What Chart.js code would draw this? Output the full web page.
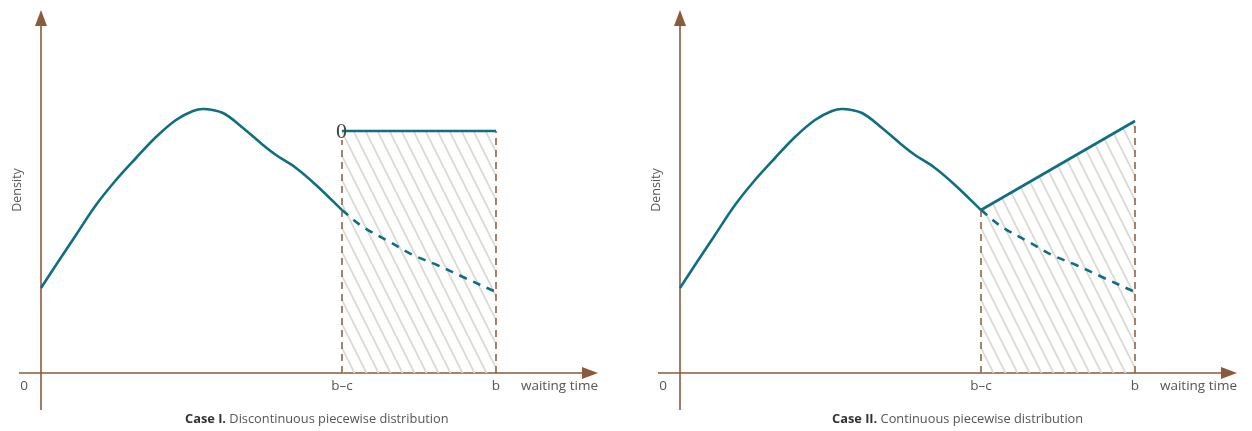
<!DOCTYPE html>
<html>
<head>
<meta charset="utf-8">
<script src="https://cdn.jsdelivr.net/npm/chart.js@4.4.0/dist/chart.umd.min.js"></script>
<style>
  body { margin: 0; background: #fff; }
  .wrap { position: relative; width: 1252px; height: 431px; overflow: hidden; }
  canvas { position: absolute; top: 0; }
  #chartA { left: 0; }
  #chartB { left: 639px; }
  .caption {
    position: absolute; top: 409px;
    font-family: "Open Sans", sans-serif; font-size: 12.8px; color: #555;
    white-space: nowrap;
  }
  .caption b { color: #333; }
</style>
</head>
<body>
<div class="wrap">
  <canvas id="chartA" width="613" height="431"></canvas>
  <canvas id="chartB" width="613" height="431"></canvas>
  <div class="caption" style="left:185px"><b>Case I.</b> Discontinuous piecewise distribution</div>
  <div class="caption" style="left:832px"><b>Case II.</b> Continuous piecewise distribution</div>
</div>
<script>
// waiting time positions (same units on both panels)
const B_MINUS_C = 6.02;
const B = 9.1;

// density curve up to b-c
const curveX = [0, 0.3, 0.7, 1.1, 1.5, 1.9, 2.3, 2.7, 3.04, 3.26, 3.64, 4.04, 4.44, 4.7, 5.1, 5.5, 6.02];
const curveY = [0.85, 1.08, 1.38, 1.68, 1.93, 2.15, 2.36, 2.53, 2.62, 2.64, 2.60, 2.45, 2.28, 2.18, 2.05, 1.88, 1.63];

// dashed continuation of the original density between b-c and b
const tailX = [6.02, 6.44, 6.98, 7.44, 7.92, 8.44, 9.1];
const tailY = [1.63, 1.46, 1.31, 1.18, 1.08, 0.96, 0.81];

// tail replacement: case I flat level, case II straight line
const caseIX = [B_MINUS_C, B];
const caseIY = [2.42, 2.42];
const caseIIX = [B_MINUS_C, B];
const caseIIY = [1.63, 2.52];

// x-axis tick labels
const tickValues = [0, B_MINUS_C, B];
const tickLabels = ['0', 'b\u2013c', 'b'];
const xTitle = 'waiting time';
const yTitle = 'Density';

const TEAL = '#0f6f80';
const BROWN = '#8b5a3a';
const FONT = '"Open Sans", sans-serif';

function pts(xs, ys) {
  return xs.map((x, i) => ({ x: x, y: ys[i] }));
}

function makeHatch() {
  const w = 12, h = 24;
  const c = document.createElement('canvas');
  c.width = w; c.height = h;
  const ctx = c.getContext('2d');
  ctx.strokeStyle = '#dbd9d1';
  ctx.lineWidth = 1.8;
  for (let k = -1; k <= 1; k++) {
    ctx.beginPath();
    ctx.moveTo(k * w, 0);
    ctx.lineTo(k * w + w, h);
    ctx.stroke();
  }
  return c;
}

// axes with arrow heads, labels
const axesPlugin = {
  id: 'axes',
  beforeDatasetsDraw(chart) {
    const ctx = chart.ctx;
    const xs = chart.scales.x, ys = chart.scales.y;
    const x0 = xs.getPixelForValue(0);
    const y0 = ys.getPixelForValue(0);
    const right = chart.width - 15;
    ctx.save();
    ctx.strokeStyle = BROWN;
    ctx.fillStyle = BROWN;
    ctx.lineWidth = 1.6;
    // y axis
    ctx.beginPath();
    ctx.moveTo(x0, 410);
    ctx.lineTo(x0, 24);
    ctx.stroke();
    ctx.beginPath();
    ctx.moveTo(x0, 10);
    ctx.lineTo(x0 - 6, 26);
    ctx.lineTo(x0 + 6, 26);
    ctx.closePath();
    ctx.fill();
    // x axis
    ctx.beginPath();
    ctx.moveTo(x0 - 22, y0);
    ctx.lineTo(right - 14, y0);
    ctx.stroke();
    ctx.beginPath();
    ctx.moveTo(right, y0);
    ctx.lineTo(right - 16, y0 - 6);
    ctx.lineTo(right - 16, y0 + 6);
    ctx.closePath();
    ctx.fill();
    ctx.restore();
  },
  afterDraw(chart, args, opts) {
    const ctx = chart.ctx;
    const xs = chart.scales.x, ys = chart.scales.y;
    const x0 = xs.getPixelForValue(0);
    const y0 = ys.getPixelForValue(0);
    const right = chart.width - 15;
    ctx.save();
    ctx.fillStyle = '#555';
    ctx.font = '13.5px ' + FONT;
    ctx.textBaseline = 'middle';
    ctx.textAlign = 'center';
    tickValues.forEach((v, i) => {
      let px = xs.getPixelForValue(v);
      if (v === 0) px = x0 - 17;
      ctx.fillText(tickLabels[i], px, y0 + 13);
    });
    ctx.textAlign = 'right';
    ctx.fillText(xTitle, right, y0 + 13);
    // y title
    ctx.save();
    ctx.translate(x0 - 24, 190);
    ctx.rotate(-Math.PI / 2);
    ctx.textAlign = 'center';
    ctx.font = '12.5px ' + FONT;
    ctx.fillText(yTitle, 0, 0);
    ctx.restore();
    // stray "0" mark on the jump of case I
    if (opts.stray) {
      ctx.font = '22px "Liberation Serif", serif';
      ctx.fillStyle = '#444';
      ctx.textAlign = 'center';
      ctx.fillText('0', xs.getPixelForValue(B_MINUS_C) - 0.5, ys.getPixelForValue(caseIY[0]) + 1);
    }
    ctx.restore();
  }
};

function buildChart(id, topX, topY, stray) {
  const hatch = document.getElementById(id).getContext('2d').createPattern(makeHatch(), 'repeat');
  const topStart = topY[0];
  const topEnd = topY[topY.length - 1];
  return new Chart(document.getElementById(id), {
    type: 'scatter',
    data: {
      datasets: [
        {
          data: pts(curveX, curveY),
          showLine: true, borderColor: TEAL, borderWidth: 2.6,
          pointRadius: 0, tension: 0.35, fill: false, order: 0
        },
        {
          data: pts(tailX, tailY),
          showLine: true, borderColor: TEAL, borderWidth: 2.6, borderDash: [8, 7],
          pointRadius: 0, tension: 0.35, fill: false, order: 1
        },
        {
          data: pts([B_MINUS_C, B_MINUS_C], [0, stray ? topStart - 0.09 : topStart]),
          showLine: true, borderColor: BROWN, borderWidth: 1.5, borderDash: [7, 5],
          pointRadius: 0, fill: false, order: 2
        },
        {
          data: pts([B, B], [0, topEnd]),
          showLine: true, borderColor: BROWN, borderWidth: 1.5, borderDash: [7, 5],
          pointRadius: 0, fill: false, order: 2
        },
        {
          data: pts(topX, topY),
          showLine: true, borderColor: TEAL, borderWidth: 2.6,
          backgroundColor: hatch, fill: 'origin',
          pointRadius: 0, order: 3
        }
      ]
    },
    options: {
      responsive: false,
      animation: false,
      layout: { padding: 0 },
      plugins: {
        legend: { display: false },
        tooltip: { enabled: false },
        axes: { stray: stray }
      },
      scales: {
        x: { type: 'linear', display: false, min: -0.82, max: 11.44 },
        y: { type: 'linear', display: false, min: -0.58, max: 3.73 }
      }
    },
    plugins: [axesPlugin]
  });
}

buildChart('chartA', caseIX, caseIY, true);
buildChart('chartB', caseIIX, caseIIY, false);
</script>
</body>
</html>
